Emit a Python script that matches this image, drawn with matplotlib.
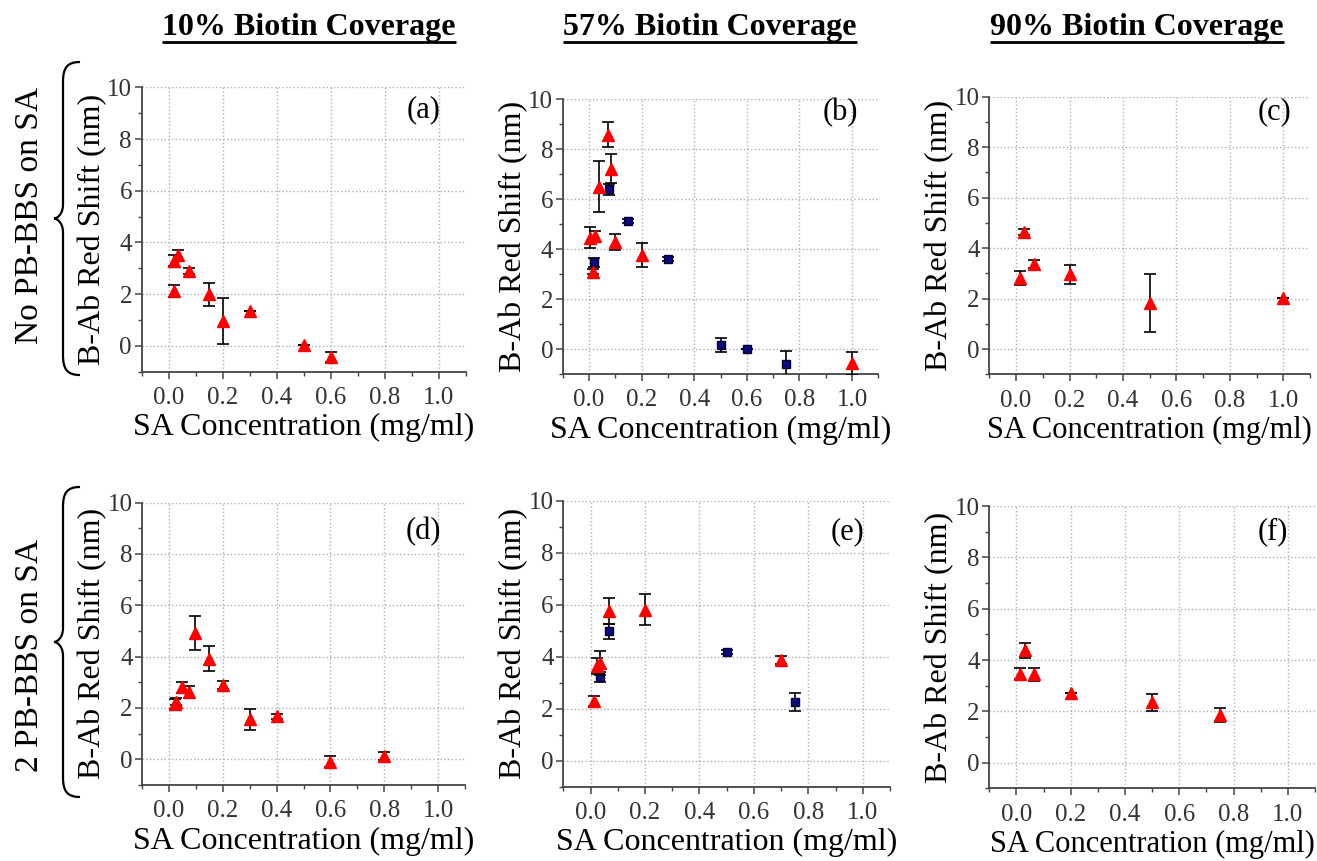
import matplotlib
matplotlib.use('Agg')
import matplotlib.pyplot as plt
from matplotlib.path import Path
from matplotlib.patches import PathPatch
from matplotlib.ticker import MultipleLocator

plt.rcParams['font.family'] = ['Liberation Serif', 'DejaVu Serif']

# Column / row headings
col_titles = ["10% Biotin Coverage", "57% Biotin Coverage", "90% Biotin Coverage"]
row_titles = ["No PB-BBS on SA", "2 PB-BBS on SA"]
panel_tags = ["(a)", "(b)", "(c)", "(d)", "(e)", "(f)"]

# (a) 10%, no PB-BBS
a_tri_x = [0.02, 0.02, 0.035, 0.075, 0.15, 0.2, 0.3, 0.5, 0.6]
a_tri_y = [2.12, 3.3, 3.5, 2.91, 2.0, 0.97, 1.36, 0.04, -0.42]
a_tri_e = [0.24, 0.22, 0.2, 0.12, 0.44, 0.88, 0.0, 0.0, 0.2]
a_sq_x, a_sq_y, a_sq_e = [], [], []

# (b) 57%, no PB-BBS
b_tri_x = [0.005, 0.015, 0.024, 0.037, 0.071, 0.083, 0.1, 0.2, 1.0]
b_tri_y = [4.45, 3.1, 4.52, 6.5, 8.57, 7.22, 4.29, 3.76, -0.57]
b_tri_e = [0.42, 0.1, 0.2, 1.03, 0.5, 0.57, 0.32, 0.47, 0.47]
b_sq_x = [0.018, 0.077, 0.15, 0.3, 0.5, 0.6, 0.75]
b_sq_y = [3.47, 6.39, 5.12, 3.61, 0.16, 0.0, -0.6]
b_sq_e = [0.18, 0.23, 0.08, 0.07, 0.29, 0.0, 0.52]

# (c) 90%, no PB-BBS
c_tri_x = [0.016, 0.031, 0.069, 0.2, 0.5, 1.0]
c_tri_y = [2.8, 4.62, 3.38, 2.97, 1.82, 2.04]
c_tri_e = [0.28, 0.12, 0.15, 0.38, 1.16, 0.0]
c_sq_x, c_sq_y, c_sq_e = [], [], []

# (d) 10%, 2 PB-BBS
d_tri_x = [0.02, 0.027, 0.047, 0.075, 0.097, 0.15, 0.2, 0.3, 0.4, 0.6, 0.8]
d_tri_y = [2.15, 2.25, 2.8, 2.62, 4.92, 3.92, 2.89, 1.56, 1.68, -0.09, 0.13]
d_tri_e = [0.2, 0.15, 0.22, 0.23, 0.65, 0.48, 0.15, 0.4, 0.1, 0.2, 0.17]
d_sq_x, d_sq_y, d_sq_e = [], [], []

# (e) 57%, 2 PB-BBS
e_tri_x = [0.012, 0.025, 0.035, 0.067, 0.2, 0.7]
e_tri_y = [2.28, 3.65, 3.75, 5.75, 5.8, 3.87]
e_tri_e = [0.19, 0.3, 0.45, 0.5, 0.6, 0.15]
e_sq_x = [0.034, 0.067, 0.5, 0.75]
e_sq_y = [3.23, 4.98, 4.18, 2.27]
e_sq_e = [0.19, 0.29, 0.08, 0.35]

# (f) 90%, 2 PB-BBS
f_tri_x = [0.012, 0.031, 0.064, 0.2, 0.5, 0.75]
f_tri_y = [3.47, 4.38, 3.44, 2.73, 2.35, 1.86]
f_tri_e = [0.2, 0.3, 0.25, 0.0, 0.32, 0.28]
f_sq_x, f_sq_y, f_sq_e = [], [], []

panels = [
    (a_tri_x, a_tri_y, a_tri_e, a_sq_x, a_sq_y, a_sq_e),
    (b_tri_x, b_tri_y, b_tri_e, b_sq_x, b_sq_y, b_sq_e),
    (c_tri_x, c_tri_y, c_tri_e, c_sq_x, c_sq_y, c_sq_e),
    (d_tri_x, d_tri_y, d_tri_e, d_sq_x, d_sq_y, d_sq_e),
    (e_tri_x, e_tri_y, e_tri_e, e_sq_x, e_sq_y, e_sq_e),
    (f_tri_x, f_tri_y, f_tri_e, f_sq_x, f_sq_y, f_sq_e),
]

boxes = [
    [0.1076, 0.5683, 0.2460, 0.3303],
    [0.4273, 0.5656, 0.2396, 0.3194],
    [0.7512, 0.5653, 0.2435, 0.3224],
    [0.1080, 0.0883, 0.2450, 0.3279],
    [0.4277, 0.0863, 0.2481, 0.3322],
    [0.7512, 0.0844, 0.2473, 0.3279],
]
tag_pos = [(0.87, 0.92), (0.88, 0.95), (0.89, 0.945),
           (0.87, 0.897), (0.871, 0.892), (0.871, 0.909)]
xlabel_size = [23, 23, 22, 23, 23, 22]

W, H = 1317, 861
fig = plt.figure(figsize=(W / 100, H / 100), dpi=100)

# background axes in pixel coordinates for headings and braces
bg = fig.add_axes([0, 0, 1, 1], zorder=-1)
bg.set_xlim(0, W)
bg.set_ylim(H, 0)
bg.axis('off')

red = '#ff0000'
navy = '#0a0a80'

for i, (box, data) in enumerate(zip(boxes, panels)):
    tx, ty, te, sx, sy, se = data
    ax = fig.add_axes(box)
    ax.set_xlim(-0.1, 1.1)
    ax.set_ylim(-1, 10)
    ax.xaxis.set_major_locator(MultipleLocator(0.2))
    ax.xaxis.set_minor_locator(MultipleLocator(0.1))
    ax.yaxis.set_major_locator(MultipleLocator(2))
    ax.yaxis.set_minor_locator(MultipleLocator(1))
    ax.set_xticks([0, 0.2, 0.4, 0.6, 0.8, 1.0])
    ax.set_xticklabels(['0.0', '0.2', '0.4', '0.6', '0.8', '1.0'])
    ax.grid(True, which='major', linestyle=':', color='#b0b0b0', linewidth=1.0)
    ax.set_axisbelow(True)
    for s in ['top', 'right']:
        ax.spines[s].set_visible(False)
    for s in ['left', 'bottom']:
        ax.spines[s].set_color('#444444')
        ax.spines[s].set_linewidth(1.3)
    ax.tick_params(which='major', direction='out', length=5, width=1.1,
                   color='#444444', labelsize=18, labelcolor='#333333')
    ax.tick_params(axis='x', which='major', pad=6)
    ax.tick_params(axis='y', which='major', pad=2)
    ax.tick_params(which='minor', direction='out', length=3, width=1.0,
                   color='#444444')

    if sx:
        ax.errorbar(sx, sy, yerr=se, fmt='s', color=navy, mec='#000033',
                    ms=6, ecolor='black', elinewidth=1.2, capsize=4,
                    capthick=1.2, zorder=3)
    ax.errorbar(tx, ty, yerr=te, fmt='^', color=red, mec=red, ms=9,
                ecolor='black', elinewidth=1.2, capsize=4, capthick=1.2,
                zorder=4)

    ax.set_xlabel('SA Concentration (mg/ml)', fontsize=xlabel_size[i], labelpad=3)
    ax.set_ylabel('B-Ab Red Shift (nm)', fontsize=23, labelpad=0)
    ax.text(tag_pos[i][0], tag_pos[i][1], panel_tags[i], transform=ax.transAxes,
            ha='center', va='center', fontsize=22)

# column titles, bold and underlined
title_cx = [309, 710, 1137]
title_objs = []
for cx, t in zip(title_cx, col_titles):
    title_objs.append(bg.text(cx, 35, t, ha='center', va='baseline',
                              fontsize=23, fontweight='bold'))

fig.canvas.draw()
inv = bg.transData.inverted()
for t in title_objs:
    bb = t.get_window_extent()
    x0, _ = inv.transform((bb.x0, bb.y0))
    x1, _ = inv.transform((bb.x1, bb.y0))
    bg.plot([x0, x1], [42, 42], color='black', linewidth=2, solid_capstyle='butt')

# row labels
row_cy = [215, 655]
for cy, t in zip(row_cy, row_titles):
    bg.text(30, cy, t, rotation=90, ha='center', va='center', fontsize=24)


def brace(y0, y1, x_end=80, x_mid=63, x_tip=54):
    ym = (y0 + y1) / 2
    verts = [
        (x_end, y0),
        (x_mid + 4, y0), (x_mid, y0 + 6), (x_mid, y0 + 20),
        (x_mid, ym - 14),
        (x_mid, ym - 4), (x_tip + 3, ym), (x_tip, ym),
        (x_tip + 3, ym), (x_mid, ym + 4), (x_mid, ym + 14),
        (x_mid, y1 - 20),
        (x_mid, y1 - 6), (x_mid + 4, y1), (x_end, y1),
    ]
    codes = [Path.MOVETO,
             Path.CURVE4, Path.CURVE4, Path.CURVE4,
             Path.LINETO,
             Path.CURVE4, Path.CURVE4, Path.CURVE4,
             Path.CURVE4, Path.CURVE4, Path.CURVE4,
             Path.LINETO,
             Path.CURVE4, Path.CURVE4, Path.CURVE4]
    bg.add_patch(PathPatch(Path(verts, codes), facecolor='none',
                           edgecolor='black', linewidth=1.6))


brace(62, 375)
brace(487, 797)

fig.savefig('out.png', dpi=100)
